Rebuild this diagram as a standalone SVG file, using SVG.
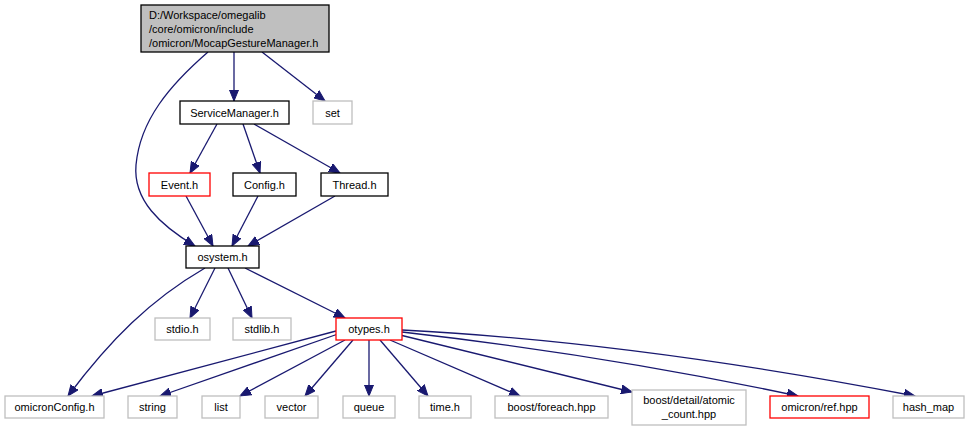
<svg xmlns="http://www.w3.org/2000/svg" width="969" height="432" viewBox="0 0 969 432">
<defs>
<marker id="ah" markerUnits="userSpaceOnUse" markerWidth="12" markerHeight="10" refX="11" refY="5" orient="auto">
<path d="M0,0.5 L11,5 L0,9.5 Z" fill="#191970" stroke="#191970"/>
</marker>
<style>
.n rect{fill:#fff;stroke-width:1.3}
.blk rect{stroke:#000}
.gry rect{stroke:#bfbfbf}
.red rect{stroke:#ff0000}
text{font-family:"Liberation Sans",Arial,sans-serif;font-size:11px;fill:#000;text-anchor:middle}
.e path{fill:none;stroke:#191970;stroke-width:1.3;marker-end:url(#ah)}
</style>
</defs>
<rect width="969" height="432" fill="#fff"/>
<g class="e">
<path d="M234,52 L234,101"/>
<path d="M262,52 L325,101"/>
<path d="M208,52 C170,85 140,120 136,165 C133,200 160,225 195,246"/>
<path d="M217,124 L190,173"/>
<path d="M243,124 L260,173"/>
<path d="M254,124 L340,173"/>
<path d="M186,196 L213,246"/>
<path d="M258,196 L232,246"/>
<path d="M335,196 L248,246"/>
<path d="M215,268 L190,318"/>
<path d="M228,268 L252,318"/>
<path d="M245,268 L345,318"/>
<path d="M205,268 C150,300 110,340 68,396"/>
<path d="M336,331 L92,396"/>
<path d="M338,334 L160,396"/>
<path d="M345,340 L240,396"/>
<path d="M353,340 L305,396"/>
<path d="M369,340 L369,396"/>
<path d="M380,340 L428,396"/>
<path d="M390,340 L520,396"/>
<path d="M400,335 L632,392"/>
<path d="M402,332 C560,350 700,375 798,396"/>
<path d="M402,330 C600,340 780,370 915,396"/>
</g>
<g id="root" class="n blk"><rect x="141" y="5" width="188" height="47" fill="#bfbfbf" style="fill:#bfbfbf"/><text x="149" y="19" style="text-anchor:start">D:/Workspace/omegalib</text><text x="149" y="33" style="text-anchor:start">/core/omicron/include</text><text x="149" y="47" style="text-anchor:start">/omicron/MocapGestureManager.h</text></g>
<g id="servicemanager" class="n blk"><rect x="180" y="101" width="109" height="23"/><text x="234.5" y="117">ServiceManager.h</text></g>
<g id="set" class="n gry"><rect x="313" y="101" width="39" height="23"/><text x="332.5" y="117">set</text></g>
<g id="event" class="n red"><rect x="149" y="173" width="61" height="23"/><text x="179.5" y="189">Event.h</text></g>
<g id="config" class="n blk"><rect x="233" y="173" width="63" height="23"/><text x="264.5" y="189">Config.h</text></g>
<g id="thread" class="n blk"><rect x="321" y="173" width="67" height="23"/><text x="354.5" y="189">Thread.h</text></g>
<g id="osystem" class="n blk"><rect x="186" y="246" width="73" height="22"/><text x="222.5" y="261">osystem.h</text></g>
<g id="stdio" class="n gry"><rect x="155" y="318" width="55" height="22"/><text x="182.5" y="333">stdio.h</text></g>
<g id="stdlib" class="n gry"><rect x="233" y="318" width="58" height="22"/><text x="262" y="333">stdlib.h</text></g>
<g id="otypes" class="n red"><rect x="336" y="318" width="66" height="22"/><text x="369" y="333">otypes.h</text></g>
<g id="omicronconfig" class="n gry"><rect x="5" y="396" width="99" height="22"/><text x="54.5" y="411">omicronConfig.h</text></g>
<g id="string" class="n gry"><rect x="128" y="396" width="49" height="22"/><text x="152.5" y="411">string</text></g>
<g id="list" class="n gry"><rect x="202" y="396" width="38" height="22"/><text x="221" y="411">list</text></g>
<g id="vector" class="n gry"><rect x="265" y="396" width="53" height="22"/><text x="291.5" y="411">vector</text></g>
<g id="queue" class="n gry"><rect x="343" y="396" width="52" height="22"/><text x="369" y="411">queue</text></g>
<g id="time" class="n gry"><rect x="419" y="396" width="52" height="22"/><text x="445" y="411">time.h</text></g>
<g id="foreach" class="n gry"><rect x="495" y="396" width="113" height="22"/><text x="551.5" y="411">boost/foreach.hpp</text></g>
<g id="atomic" class="n gry"><rect x="632" y="390" width="114" height="35"/><text x="689" y="404">boost/detail/atomic</text><text x="689" y="418">_count.hpp</text></g>
<g id="ref" class="n red"><rect x="770" y="396" width="99" height="22"/><text x="819.5" y="411">omicron/ref.hpp</text></g>
<g id="hashmap" class="n gry"><rect x="893" y="396" width="71" height="22"/><text x="928.5" y="411">hash_map</text></g>
</svg>
